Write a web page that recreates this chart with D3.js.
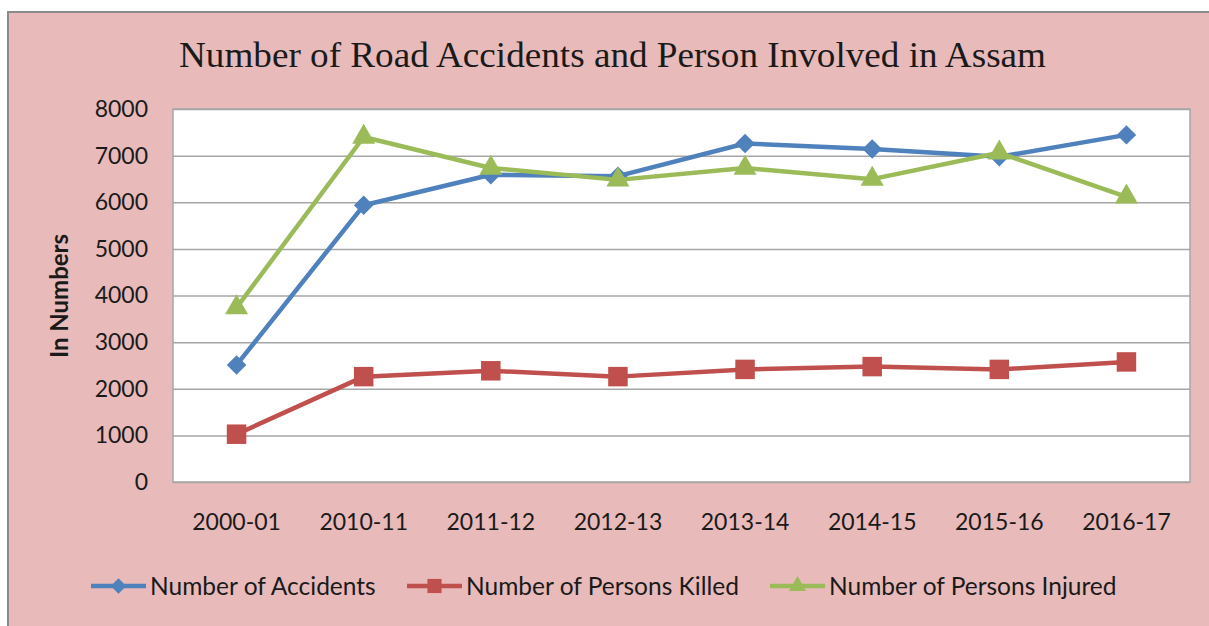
<!DOCTYPE html>
<html lang="en">
<head>
    <meta charset="UTF-8">
    <title>Number of Road Accidents and Person Involved in Assam</title>
    <style>
        body, html {
            margin: 0;
            padding: 0;
            background-color: #ffffff;
            overflow: hidden;
        }
        svg { display: block; }
    </style>
</head>
<body>
    <script src="https://d3js.org/d3.v7.min.js"></script>
    <script>
        // Data
        var years = ["2000-01", "2010-11", "2011-12", "2012-13", "2013-14", "2014-15", "2015-16", "2016-17"];
        var accidents = [2510, 5935, 6590, 6560, 7260, 7140, 6975, 7445];
        var killed = [1025, 2260, 2385, 2260, 2415, 2475, 2415, 2575];
        var injured = [3740, 7400, 6735, 6480, 6735, 6495, 7060, 6115];
        var yTicks = [0, 1000, 2000, 3000, 4000, 5000, 6000, 7000, 8000];

        var width = 1209,
            height = 626;

        var svg = d3.select("body").append("svg")
            .attr("width", width)
            .attr("height", height);

        // chart frame (runs off the right and bottom edges)
        svg.append("rect")
            .attr("x", 8).attr("y", 12)
            .attr("width", 1230).attr("height", 640)
            .attr("fill", "#e8baba")
            .attr("stroke", "#8a8a8a")
            .attr("stroke-width", 2);

        svg.append("text")
            .attr("x", 179).attr("y", 67)
            .attr("textLength", 867)
            .attr("lengthAdjust", "spacingAndGlyphs")
            .style("font-family", "'Liberation Serif', 'Times New Roman', serif")
            .style("font-size", "36px")
            .attr("fill", "#1a1a1a")
            .text("Number of Road Accidents and Person Involved in Assam");

        var plot = { left: 173, top: 109, right: 1190, bottom: 482 };

        var x = d3.scaleBand()
            .domain(years)
            .range([plot.left, plot.right]);

        var y = d3.scaleLinear()
            .domain([0, 8000])
            .range([plot.bottom, plot.top]);

        svg.append("rect")
            .attr("x", plot.left).attr("y", plot.top)
            .attr("width", plot.right - plot.left)
            .attr("height", plot.bottom - plot.top)
            .attr("fill", "#ffffff")
            .attr("stroke", "#a6a6a6")
            .attr("stroke-width", 1.5);

        // gridlines
        svg.append("g")
            .attr("transform", "translate(" + plot.left + ",0)")
            .call(d3.axisLeft(y).tickValues(yTicks).tickSize(-(plot.right - plot.left)).tickFormat(""))
            .call(function (g) {
                g.select(".domain").remove();
                g.selectAll("line").attr("stroke", "#a6a6a6").attr("stroke-width", 1.5);
            });

        var labelFont = "Lato, 'Open Sans', sans-serif";

        // y axis labels
        svg.append("g")
            .attr("transform", "translate(" + (plot.left - 25) + ",0)")
            .call(d3.axisLeft(y).tickValues(yTicks).tickSize(0).tickPadding(0).tickFormat(d3.format("d")))
            .call(function (g) {
                g.select(".domain").remove();
                g.selectAll("text")
                    .style("font-family", labelFont)
                    .style("font-size", "23px")
                    .attr("fill", "#1a1a1a");
            });

        // x axis labels
        svg.append("g")
            .attr("transform", "translate(0," + plot.bottom + ")")
            .call(d3.axisBottom(x).tickSize(0).tickPadding(32))
            .call(function (g) {
                g.select(".domain").remove();
                g.selectAll("text")
                    .style("font-family", labelFont)
                    .style("font-size", "23px")
                    .attr("fill", "#1a1a1a");
            });

        svg.append("text")
            .attr("transform", "translate(68,296) rotate(-90)")
            .attr("text-anchor", "middle")
            .style("font-family", labelFont)
            .style("font-size", "24px")
            .style("font-weight", "bold")
            .attr("fill", "#1a1a1a")
            .text("In Numbers");

        // Excel-style diamond: a square turned 45 degrees
        var diamond = {
            draw: function (context, size) {
                var r = Math.sqrt(size / 2);
                context.moveTo(0, -r);
                context.lineTo(r, 0);
                context.lineTo(0, r);
                context.lineTo(-r, 0);
                context.closePath();
            }
        };

        var series = [
            { name: "Number of Accidents", values: accidents, color: "#4f81bd", shape: diamond, size: 190, lsize: 120 },
            { name: "Number of Persons Killed", values: killed, color: "#c0504d", shape: d3.symbolSquare, size: 380, lsize: 200 },
            { name: "Number of Persons Injured", values: injured, color: "#9bbb59", shape: d3.symbolTriangle, size: 230, lsize: 130 }
        ];

        var line = d3.line()
            .x(function (d, i) { return x(years[i]) + x.bandwidth() / 2; })
            .y(function (d) { return y(d); });

        series.forEach(function (s) {
            svg.append("path")
                .datum(s.values)
                .attr("d", line)
                .attr("fill", "none")
                .attr("stroke", s.color)
                .attr("stroke-width", 4.5)
                .attr("stroke-linejoin", "round");

            svg.selectAll(null)
                .data(s.values)
                .enter()
                .append("path")
                .attr("d", d3.symbol().type(s.shape).size(s.size))
                .attr("transform", function (d, i) {
                    return "translate(" + (x(years[i]) + x.bandwidth() / 2) + "," + y(d) + ")";
                })
                .attr("fill", s.color);
        });

        // legend
        var legendX = [91, 407, 770];
        var legend = svg.selectAll(".legend")
            .data(series)
            .enter()
            .append("g")
            .attr("class", "legend")
            .attr("transform", function (d, i) { return "translate(" + legendX[i] + ",586)"; });

        legend.append("line")
            .attr("x1", 0).attr("x2", 55)
            .attr("stroke", function (d) { return d.color; })
            .attr("stroke-width", 4.5);

        legend.append("path")
            .attr("transform", "translate(27.5,0)")
            .attr("d", function (d) { return d3.symbol().type(d.shape).size(d.lsize)(); })
            .attr("fill", function (d) { return d.color; });

        legend.append("text")
            .attr("x", 59)
            .attr("dy", "0.35em")
            .style("font-family", labelFont)
            .style("font-size", "24.5px")
            .attr("fill", "#1a1a1a")
            .text(function (d) { return d.name; });
    </script>
</body>
</html>
